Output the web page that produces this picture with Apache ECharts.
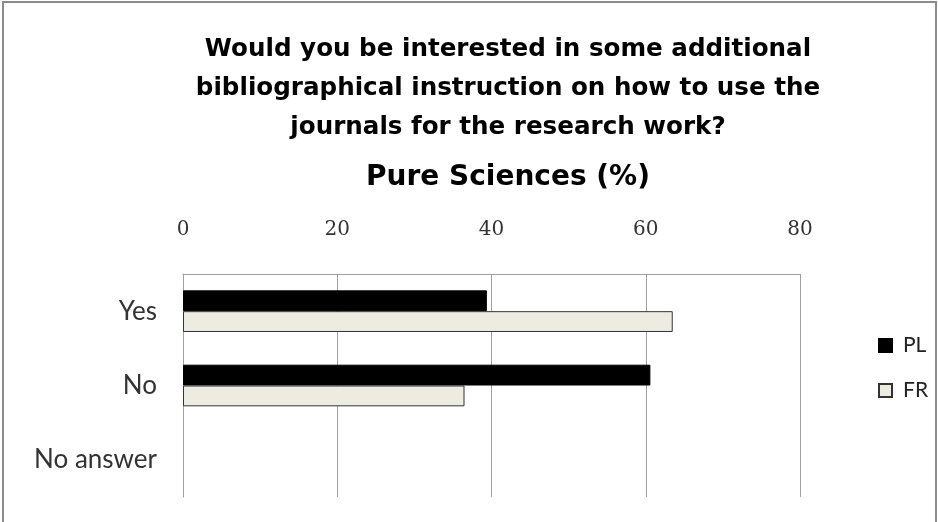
<!DOCTYPE html>
<html>
<head>
<meta charset="utf-8">
<script src="https://cdn.jsdelivr.net/npm/echarts@6/dist/echarts.min.js"></script>
<style>
  html, body { margin: 0; padding: 0; background: #fff; }
  #chart { width: 938px; height: 522px; }
</style>
</head>
<body>
<div id="chart"></div>
<script>
// Survey answers, Pure Sciences (%)
const categories = ['Yes', 'No', 'No answer'];
const plValues = [39.4, 60.6, 0];
const frValues = [63.5, 36.5, 0];
const xTicks = [0, 20, 40, 60, 80];

const titleText = 'Would you be interested in some additional\nbibliographical instruction on how to use the\njournals for the research work?';
const subText = 'Pure Sciences (%)';

// zero bars would otherwise leave a 1px border stub on the axis
function toBars(vals) {
  return vals.map(v => v === 0 ? { value: v, itemStyle: { borderWidth: 0 } } : v);
}

const chart = echarts.init(document.getElementById('chart'));
chart.setOption({
  animation: false,
  backgroundColor: '#fff',
  title: [
    {
      text: titleText,
      left: 503, top: 25, textAlign: 'center',  // titles sit right of page centre
      textStyle: { fontFamily: 'DejaVu Sans', fontWeight: 'bold', fontSize: 24.6, lineHeight: 39, color: '#000' }
    },
    {
      text: subText,
      left: 503, top: 159, textAlign: 'center',
      textStyle: { fontFamily: 'DejaVu Sans', fontWeight: 'bold', fontSize: 28, color: '#000' }
    }
  ],
  legend: {
    orient: 'vertical',
    left: 873, top: 330,
    itemWidth: 13, itemHeight: 13, itemGap: 24,
    icon: 'rect',
    textStyle: { fontFamily: 'Lato', fontSize: 21, color: '#222', padding: [0, 0, 0, 6] },
    data: ['PL', 'FR']
  },
  grid: { left: 183, right: 138, top: 274, bottom: 25 },
  xAxis: {
    type: 'value',
    position: 'top',
    min: xTicks[0], max: xTicks[xTicks.length - 1], interval: 20,
    axisLine: { show: true, lineStyle: { color: '#a0a0a0', width: 1 } },
    axisTick: { show: false },
    axisLabel: { margin: 34, fontFamily: 'DejaVu Serif', fontSize: 20, color: '#333' },
    splitLine: { show: true, lineStyle: { color: '#a0a0a0', width: 1 } }
  },
  yAxis: {
    type: 'category',
    inverse: true,
    data: categories,
    axisLine: { show: true, lineStyle: { color: '#a0a0a0', width: 1 } },
    axisTick: { show: false },
    axisLabel: { margin: 26, fontFamily: 'Lato', fontSize: 26, color: '#333' }
  },
  series: [
    {
      name: 'PL', type: 'bar', data: toBars(plValues),
      barGap: '0%', barCategoryGap: '44%',
      itemStyle: { color: '#000', borderColor: '#000', borderWidth: 1 }
    },
    {
      name: 'FR', type: 'bar', data: toBars(frValues),
      barGap: '0%', barCategoryGap: '44%',
      itemStyle: { color: '#eeebe1', borderColor: '#333', borderWidth: 1 }
    }
  ],
  graphic: [{
    type: 'rect',
    shape: { x: 3, y: 2, width: 933, height: 530 },
    style: { fill: 'none', stroke: '#8c8c8c', lineWidth: 2 },
    silent: true
  }]
});
</script>
</body>
</html>
